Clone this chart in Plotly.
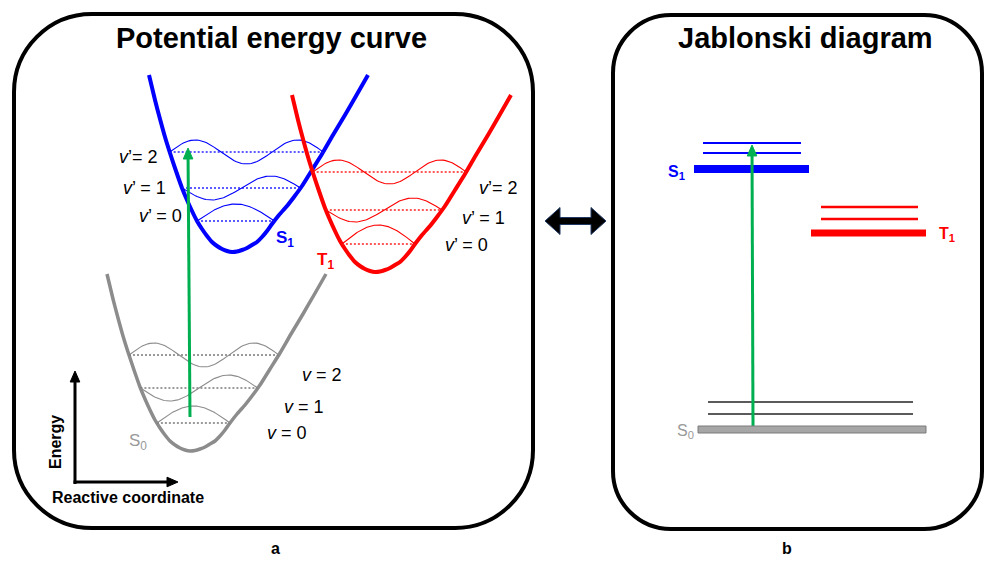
import numpy as np
import plotly.graph_objects as go

W, H = 986, 566

# ---------------- data ----------------
# generic potential-well shape: offsets from the minimum (reactive coordinate, energy)
shape_dx_left = [-83, -77, -72, -67, -62, -56, -50, -45, -40, -35, -30, -25, -20, -15, -10, -5, 0]
shape_h_left = [177, 152, 133, 115, 99, 81, 64, 52, 41, 31, 23, 16, 10, 6, 3, 1, 0]
shape_dx_right = [5, 10, 15, 20, 25, 30, 35, 40, 47, 55, 62, 70, 80, 90, 101, 113, 124, 136]
shape_h_right = [0.5, 2, 4, 7, 10, 15, 21, 28, 37, 46, 55, 66, 82, 98, 117, 137, 156, 177]

states = ["S0", "S1", "T1"]
min_coord = [190, 232, 375]        # reactive coordinate of each minimum
min_energy = [115, 314, 294]       # energy of each minimum
vib_heights = {"S0": [28, 63, 96], "S1": [31, 64, 100], "T1": [28, 62, 100]}
vib_amp = {"S0": [17, 13, 12], "S1": [17, 12, 12], "T1": [19, 12, 12]}
vib_labels = {
    "S0": ["<i>v</i> = 0", "<i>v</i> = 1", "<i>v</i> = 2"],
    "S1": ["<i>v</i>’ = 0", "<i>v</i>’ = 1", "<i>v</i>’= 2"],
    "T1": ["<i>v</i>’ = 0", "<i>v</i>’ = 1", "<i>v</i>’= 2"],
}
excitation_pec = [149, 418]        # energy: start -> end of absorption arrow

# Jablonski diagram energies (ground level first, then vibrational levels)
jab_S0 = [136.5, 152, 164]
jab_S1 = [397, 413, 423]
jab_T1 = [333, 347, 359]
excitation_jab = [140, 421]

# ---------------- styles ----------------
FONT = "Liberation Sans, Arial, sans-serif"
COL = {"S0": "#8c8c8c", "S1": "#0000ff", "T1": "#ff0000"}
DOT = {"S0": "#7a7a7a", "S1": "#2626ff", "T1": "#ff2020"}
LW = {"S0": 3.5, "S1": 4, "T1": 4}
GREEN = "#00b050"

fig = go.Figure()

dx_all = np.array(shape_dx_left + shape_dx_right, dtype=float)
h_all = np.array(shape_h_left + shape_h_right, dtype=float)
hl = np.array(shape_h_left[::-1], float)
dl = np.array(shape_dx_left[::-1], float)
hr = np.array([0] + shape_h_right, float)
dr = np.array([0] + shape_dx_right, float)

for s in ["S0", "S1", "T1"]:
    i = states.index(s)
    x0, e0 = min_coord[i], min_energy[i]
    fig.add_trace(go.Scatter(x=x0 + dx_all, y=e0 + h_all, mode="lines",
                             line=dict(color=COL[s], width=LW[s], shape="spline", smoothing=0.6),
                             hoverinfo="skip"))
    for v, h in enumerate(vib_heights[s]):
        xl = x0 + np.interp(h, hl, dl)
        xr = x0 + np.interp(h, hr, dr)
        e = e0 + h
        fig.add_trace(go.Scatter(x=[xl, xr], y=[e, e], mode="lines",
                                 line=dict(color=DOT[s], width=1.6, dash="2px,2px"),
                                 hoverinfo="skip"))
        t = np.linspace(0, 1, 80)
        fig.add_trace(go.Scatter(x=xl + t * (xr - xl),
                                 y=e + vib_amp[s][v] * (-1) ** v * np.sin((v + 1) * np.pi * t),
                                 mode="lines", line=dict(color=COL[s], width=1.1),
                                 hoverinfo="skip"))

# Jablonski levels
def level(xa, xb, e, color, width):
    fig.add_trace(go.Scatter(x=[xa, xb], y=[e, e], mode="lines",
                             line=dict(color=color, width=width), hoverinfo="skip"))

level(694, 809, jab_S1[0], COL["S1"], 8)
level(703, 801, jab_S1[1], COL["S1"], 2.2)
level(703, 801, jab_S1[2], COL["S1"], 2.2)
level(811, 926, jab_T1[0], COL["T1"], 7)
level(821, 918, jab_T1[1], COL["T1"], 2.4)
level(821, 918, jab_T1[2], COL["T1"], 2.4)
level(708, 913, jab_S0[1], "#5a5a5a", 2.2)
level(708, 913, jab_S0[2], "#5a5a5a", 2.2)

shapes = []
shapes.append(dict(type="rect", xref="x", yref="y", x0=698, x1=926,
                   y0=jab_S0[0] - 3.5, y1=jab_S0[0] + 3.5,
                   fillcolor="#a6a6a6", line=dict(color="#7a7a7a", width=1)))

# rounded panels
def rrect(x0, y0, x1, y1, r):
    k = 0.5523 * r
    return (f"M{x0+r},{y1} L{x1-r},{y1} C{x1-r+k},{y1} {x1},{y1-r+k} {x1},{y1-r} "
            f"L{x1},{y0+r} C{x1},{y0+r-k} {x1-r+k},{y0} {x1-r},{y0} "
            f"L{x0+r},{y0} C{x0+r-k},{y0} {x0},{y0+r-k} {x0},{y0+r} "
            f"L{x0},{y1-r} C{x0},{y1-r+k} {x0+r-k},{y1} {x0+r},{y1} Z")

shapes.append(dict(type="path", xref="x", yref="y", path=rrect(14, H - 528, 533, H - 14, 78),
                   line=dict(color="black", width=4), layer="below"))
shapes.append(dict(type="path", xref="x", yref="y", path=rrect(613, H - 529, 982, H - 15, 58),
                   line=dict(color="black", width=4), layer="below"))

# double-headed arrow between panels
cy = H - 221
dbl = (f"M545,{cy} L560,{cy+13.5} L560,{cy+3.5} L591,{cy+3.5} L591,{cy+13.5} L606,{cy} "
       f"L591,{cy-13.5} L591,{cy-3.5} L560,{cy-3.5} L560,{cy-13.5} Z")
shapes.append(dict(type="path", xref="x", yref="y", path=dbl, fillcolor="black",
                   line=dict(color="#1f3864", width=1)))

# arrows drawn as a line plus a filled head
def arrow(xa, ya, xb, yb, color, width, head_len=11, head_half=4.8):
    d = np.array([xb - xa, yb - ya], float)
    L = np.hypot(*d)
    u = d / L
    n = np.array([-u[1], u[0]])
    base = np.array([xb, yb]) - u * head_len
    fig.add_trace(go.Scatter(x=[xa, base[0] + u[0]], y=[ya, base[1] + u[1]], mode="lines",
                             line=dict(color=color, width=width), hoverinfo="skip"))
    p1 = base + n * head_half
    p2 = base - n * head_half
    fig.add_trace(go.Scatter(x=[xb, p1[0], p2[0], xb], y=[yb, p1[1], p2[1], yb],
                             mode="lines", fill="toself", fillcolor=color,
                             line=dict(color=color, width=1), hoverinfo="skip"))

arrow(190, excitation_pec[0], 188, excitation_pec[1], GREEN, 3)
arrow(753, excitation_jab[0], 752, excitation_jab[1], GREEN, 3)
# energy / reactive coordinate axes
arrow(75, H - 484, 75, H - 371, "black", 3)
arrow(73.5, H - 482, 178, H - 482, "black", 3)

annotations = []

def text(x, y, s, size, color="black", xanchor="center", angle=0):
    annotations.append(dict(x=x, y=y, xref="x", yref="y", text=s, showarrow=False,
                            font=dict(family=FONT, size=size, color=color),
                            xanchor=xanchor, yanchor="middle", textangle=angle))

text(271, H - 38, "<b>Potential energy curve</b>", 29)
text(805, H - 38, "<b>Jablonski diagram</b>", 29)
text(275, H - 548, "<b>a</b>", 16)
text(787, H - 548, "<b>b</b>", 16)
text(55, H - 442, "<b>Energy</b>", 16, angle=-90)
text(128, H - 497, "<b>Reactive coordinate</b>", 16)

# vibrational labels
s1_lab = [(184, H - 216), (168, H - 188), (160, H - 157)]
for (x, y), s in zip(s1_lab, vib_labels["S1"]):
    text(x, y, s, 18, xanchor="right")
t1_lab = [(443, H - 245), (460, H - 218), (477, H - 188)]
for (x, y), s in zip(t1_lab, vib_labels["T1"]):
    text(x, y, s, 18, xanchor="left")
s0_lab = [(265, H - 433), (282, H - 407), (300, H - 375)]
for (x, y), s in zip(s0_lab, vib_labels["S0"]):
    text(x, y, s, 18, xanchor="left")

text(285, H - 239, "<b>S<sub>1</sub></b>", 17, COL["S1"])
text(325, H - 261, "<b>T<sub>1</sub></b>", 17, COL["T1"])
text(138, H - 442, "S<sub>0</sub>", 17, "#999999")
text(676, H - 172, "<b>S<sub>1</sub></b>", 16, COL["S1"])
text(947, H - 234, "<b>T<sub>1</sub></b>", 16, COL["T1"])
text(685, H - 431, "S<sub>0</sub>", 16, "#999999")

fig.update_layout(
    width=W, height=H, margin=dict(l=0, r=0, t=0, b=0),
    paper_bgcolor="white", plot_bgcolor="white", showlegend=False,
    xaxis=dict(range=[0, W], visible=False, fixedrange=True),
    yaxis=dict(range=[0, H], visible=False, fixedrange=True),
    shapes=shapes, annotations=annotations,
)

fig.write_html("out.html")
